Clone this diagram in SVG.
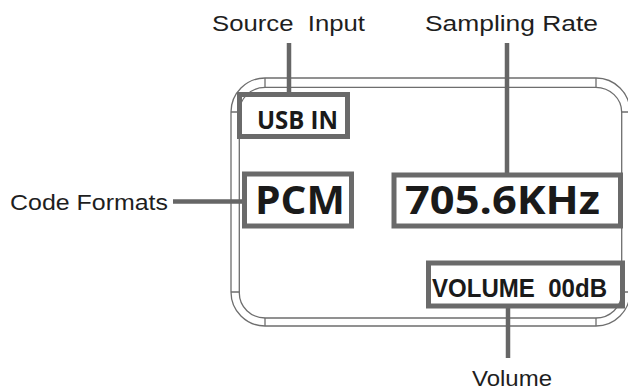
<svg xmlns="http://www.w3.org/2000/svg" width="628" height="391" viewBox="0 0 628 391">
<style>
.frame{fill:none;stroke:#6e6e6e;stroke-width:1.3}
.box{fill:none;stroke:#6a6a6a;stroke-width:5}
.conn{stroke:#666;stroke-width:4.5;fill:none}
.lbl{font-family:"Liberation Sans",Arial,sans-serif;font-size:22px;fill:#1e1e1e}
.big{font-family:"Open Sans","Noto Sans",sans-serif;font-weight:bold;fill:#1a1a1a}
.vol{font-family:"Liberation Sans",Arial,sans-serif;font-weight:bold;fill:#1a1a1a}
</style>
<rect width="628" height="391" fill="#fff"/>
<g id="frame">
<rect class="frame" x="231" y="78" width="399" height="248" rx="34" ry="34"/>
<rect class="frame" x="239.3" y="87.3" width="382.4" height="230.7" rx="26" ry="25"/>
<path class="frame" d="M265 78V87.3M596 78V87.3M231 112H239.3M621.7 112H630M231 292H239.3M621.7 292H630M265 318V326M596 318V326"/>
</g>
<g id="connectors">
<line class="conn" x1="289" y1="43" x2="289" y2="93"/>
<line class="conn" x1="507" y1="43" x2="507" y2="173"/>
<line class="conn" x1="173" y1="201.5" x2="242" y2="201.5"/>
<line class="conn" x1="508" y1="308" x2="508" y2="358"/>
</g>
<g id="source-input"><text class="lbl" xml:space="preserve" x="212" y="31" textLength="153" lengthAdjust="spacingAndGlyphs">Source  Input</text></g>
<g id="sampling-rate"><text class="lbl" x="425" y="31" textLength="173" lengthAdjust="spacingAndGlyphs">Sampling Rate</text></g>
<g id="code-formats"><text class="lbl" x="10" y="210" textLength="158" lengthAdjust="spacingAndGlyphs">Code Formats</text></g>
<g id="volume"><text class="lbl" x="472" y="386" textLength="80" lengthAdjust="spacingAndGlyphs">Volume</text></g>
<g id="usb-in">
<text class="big" x="257" y="129" font-size="25" textLength="81" lengthAdjust="spacingAndGlyphs">USB IN</text>
<rect class="box" x="239.5" y="94.5" width="108" height="42"/>
</g>
<g id="pcm">
<text class="big" x="255" y="213.5" font-size="40" textLength="90" lengthAdjust="spacingAndGlyphs">PCM</text>
<rect class="box" x="244.5" y="174" width="107" height="52"/>
</g>
<g id="rate">
<text class="big" x="405" y="214" font-size="40" textLength="195" lengthAdjust="spacingAndGlyphs">705.6KHz</text>
<rect class="box" x="394" y="175" width="226.5" height="51"/>
</g>
<g id="volume-box">
<text class="vol" xml:space="preserve" x="432" y="297" font-size="26" textLength="175" lengthAdjust="spacingAndGlyphs">VOLUME  00dB</text>
<rect class="box" x="428.5" y="263" width="194" height="43"/>
</g>
</svg>
